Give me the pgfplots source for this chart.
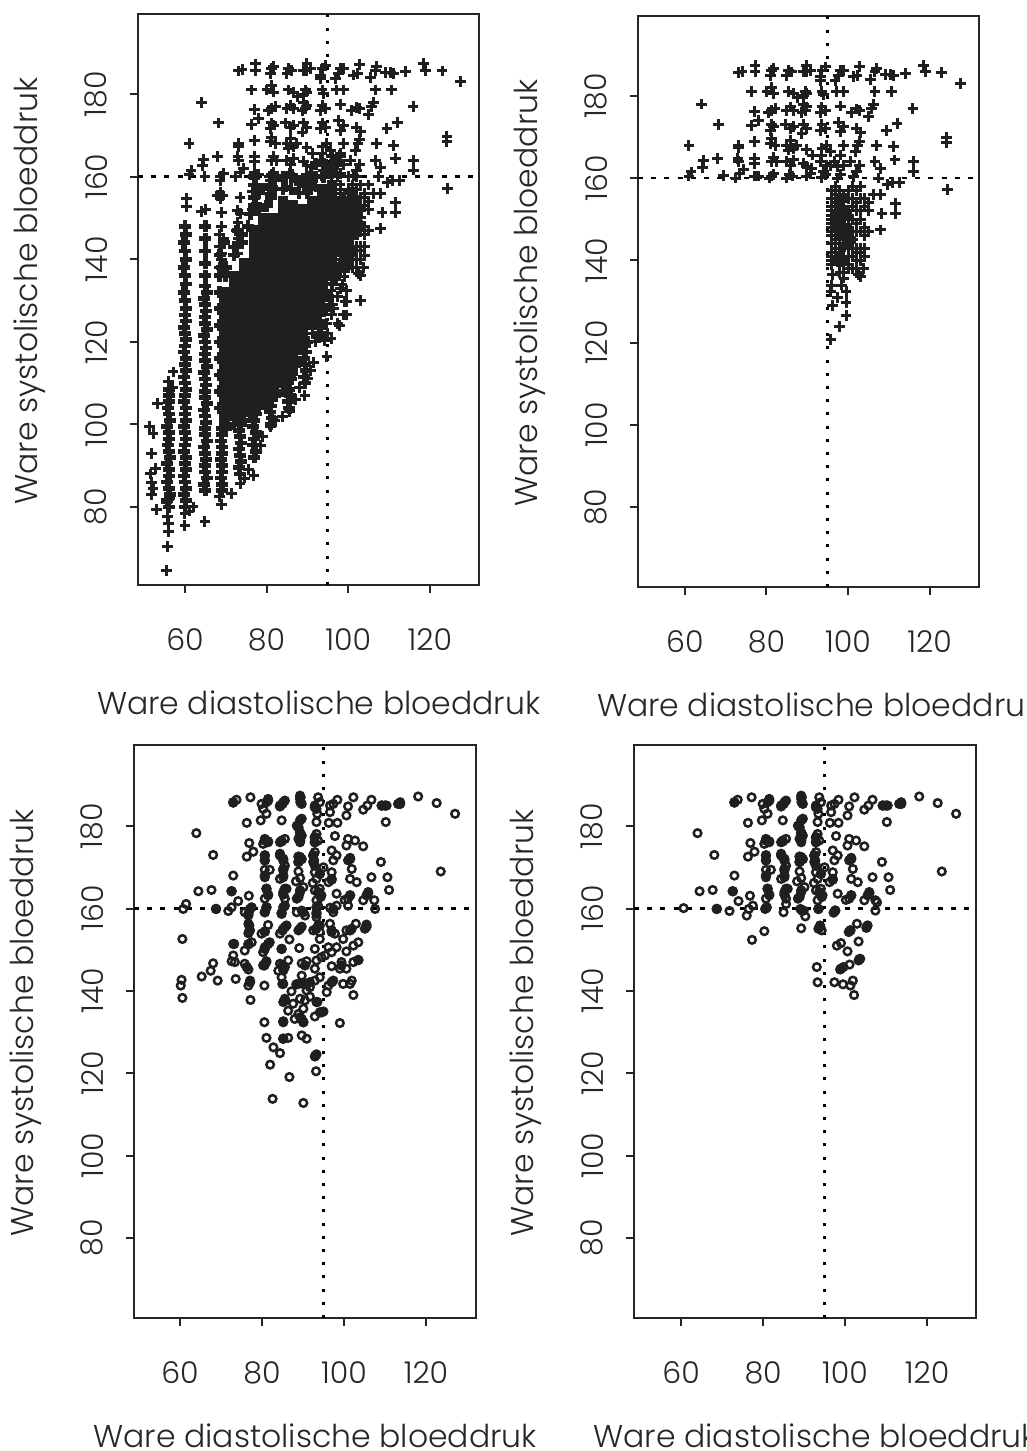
\documentclass[border=0pt]{standalone}
\usepackage{fontspec}
\setmainfont{Poppins Light}
\usepackage{pgfplots}
\usepackage{pgfplotstable}
\pgfplotsset{compat=1.18}
\pgfplotsset{
  panel/.style={
    anchor=south west, scale only axis, width=341pt, height=571pt,
    axis line style={line width=2.2pt, black!85},
    tick style={line width=2pt, black!85},
    tickwidth=8pt,
    tick align=outside, xtick pos=bottom, ytick pos=left,
    xtick={60,80,100,120}, ytick={80,100,120,140,160,180},
    /pgf/number format/assume math mode=true,
    tick label style={font=\fontsize{30}{32}\selectfont, black!85},
    xticklabel style={anchor=north, yshift=-32pt},
    yticklabel style={rotate=90, anchor=south, yshift=19pt},
    every axis x label/.style={at={(axis description cs:0.53,-0.206)},anchor=center,font=\fontsize{31.5}{34}\selectfont, text=black!85},
    every axis y label/.style={at={(axis description cs:-0.317,0.515)},rotate=90,anchor=center,font=\fontsize{31.5}{34}\selectfont, text=black!85},
    xlabel={Ware diastolische bloeddruk},
    ylabel={Ware systolische bloeddruk},
  },
  vref/.style={black, line width=2.8pt, dash pattern=on 3pt off 10.2pt, forget plot},
  hoef/.style={black, line width=2.4pt, dash pattern=on 5pt off 8.2pt, forget plot},
  pl/.style={only marks, mark=+, mark size=5.4pt, line width=3pt, mark options={solid}, color=black!88},
  mid/.style={only marks, mark=+, mark size=6pt, line width=4.6pt, color=black!88},
  blob/.style={only marks, mark=+, mark size=4.2pt, line width=8.4pt, color=black!88},
  core/.style={only marks, mark=+, mark size=5.2pt, line width=10.4pt, color=black!88},
  ci/.style={only marks, mark=o, mark size=3.8pt, line width=2.5pt, color=black!88},
  fd/.style={only marks, mark=*, mark size=5pt, color=black!88},
}
\pgfplotstableread{
x y
73.2 185.6
74 186
77.2 187.3
77.2 185.8
81.3 186.2
80.9 185
81.8 186.7
85 185
86.2 185.8
85.4 186.2
89.9 187.4
89.9 185.8
90.7 186.2
89 185.8
93.6 186.2
94.4 187
93.2 184.6
93.2 183.8
98.1 186.2
98.9 186.2
97.7 185
96.8 183.8
102.8 187.2
101.3 184.6
102.2 185
107 186.6
106.6 185.8
105.4 184
109.1 185.2
110.3 185.2
111.1 185
114 185.5
118.5 187.4
118.9 185.8
123 185.6
127.5 183
76.4 181
80.1 181
81.3 182
81.7 180.5
85.4 181
86.6 180.5
87.6 179.5
89.5 181
89.9 180.5
89.1 180
93.6 181
94 180.2
97.2 181
98.9 181
106.6 181
110.7 181
77 176.2
81.3 176.5
82.1 177
80.5 176
85 176.5
85.8 177.3
86.6 176.5
89.1 178
89.5 176.5
89.9 177.3
88.7 176
93.6 177.3
93.2 176
94.4 176.5
98.1 177.5
102 176.8
102.8 176.5
100.9 176
106.2 178
105.8 176.9
105 175
115.9 176.9
78 174
76.4 172.7
81.3 173
80.9 171.6
81.7 172.5
84.6 173
85.8 172
86.6 172.5
89.1 173
89.9 172
88.7 170.8
93.6 173
93.2 171.6
94.4 172
97.7 173.6
98.9 172.5
98.1 171.2
102 172
103 171
109.5 171.6
112 173.2
77.1 168.8
73.2 168
73.2 167.4
81.3 169.6
80.9 168.4
82.1 168
85 168
85.8 169.2
86.6 167.2
85.4 166.8
87.4 168
89.9 167
91.3 165.6
93.6 167.2
94.8 168
95.6 166.4
93.6 165.6
98.9 168
98.1 165.6
102.8 169
102.4 168
101.8 166.4
107 168
111.2 167.6
124.2 169.8
124.2 168.6
73 164.8
73.2 164
77 164.8
77 163.6
64.5 164.2
64.4 162.6
68 164.8
81.7 165
81.3 164
82.5 164
85 164
85.8 163
86.6 164.4
89.1 163.6
89.9 162.8
91.1 162.4
93.2 164
94.8 163
94 161.6
95.6 163
98.9 163
97.3 162.8
98.1 160.8
96.6 164
100.5 164
102.8 163
102 161.5
101.3 160.3
106.6 164
107.9 162.3
111.5 164.4
116 164
116 161.6
61 168
61 160.5
61.5 161.5
64 178
68.2 173
69.4 160.7
72.5 160
73.5 161
74.3 162
77.5 160.5
77 160.5
78 160.5
81.2 160.5
80.8 160
81.8 161
85.7 160.8
85 160
86.4 160.5
89.7 160.5
90.7 161
93.4 160.2
94.4 160.8
97.5 160
107.5 160
109.6 158.5
110.9 159
112.6 159
124.4 157.2
107.9 156
106.3 156
108.3 151.4
111.6 153.8
111.6 151.4
108 147.4
103.8 138
103 136
102.5 136.5
96.2 136.5
95.8 132.5
99 135.7
99.5 132.5
96.2 129
99.5 129.7
99.5 126.5
97.9 124
95.8 120.8
98.5 134
97.5 131
96 134
98 137
99 137
96 157
96 155
96 153
96 152
96 151
96 150
96 149
96 148
96 147
96 146
96 144
96 142
96 141
96 140
96 139
97 158
97 156
97 154
97 152
97 150
97 149
97 148
97 146
97 145
97 143
97 141
97 140
98 157
98 155
98 152
98 150
98 148
98 147
98 146
98 145
98 144
98 142
98 140
98 139
99 156
99 153
99 150
99 148
99 147
99 146
99 145
99 144
99 143
99 141
99 139
100 157
100 155
100 152
100 150
100 148
100 147
100 146
100 145
100 143
100 141
100 139
100 138
101 158
101 155
101 153
101 150
101 147
101 145
101 143
101 141
101 138
102 157
102 154
102 152
102 149
102 147
102 143
102 142
102 140
102 138
103 158
103 155
103 152
103 150
103 147
103 143
103 142
103 140
104 155
104 153
104 148
104 146
104 143
104 141
105 154
105 152
105 147
}\highplus
\pgfplotstableread{
x y
97.5 155
97.5 153
99 155
97 150
97 148
98.5 150
98.5 148
100 148
100 146
99 146
101 145
100 144
98 141
98 139.5
97 140
99.5 140
96.5 150.5
96.5 151.5
98 146
99 152
100 151
98.5 143
}\blobplus
\pgfplotstableread{
x y
73.0 185.7
73.8 186.4
77.2 187
79.9 185.4
80.3 184.2
81.1 183
81.5 186.6
81.1 185.8
84.4 185
85.2 185.8
85.6 186.2
89.3 187.4
89.3 186.6
89.7 185.4
92.9 185
93.3 184.2
93.7 187
94.1 185.8
96.6 185
96.6 183.4
97.4 185.4
98.4 186.4
101 184.8
100.6 182.6
102.3 187
104.7 184
105.7 185
106.7 186.4
109.2 185
110.4 185
113.2 185.4
113.7 185.8
118.1 187.2
122.6 185.6
127.1 183
76.3 180.8
79.7 181.4
84.8 181.4
88.5 180.1
89.7 181.8
93.3 181
93.5 183
96.3 180.8
98.4 180.8
110.2 181
64 178.3
89.3 178.5
88.9 176.9
89.7 177.7
89.3 176.1
92.9 177.3
93.3 178.1
92.9 176.1
93.7 176.5
76.9 175.9
80.7 176.9
81.5 176.1
80.3 175.7
84.4 176.1
85.6 176.9
84.8 176.5
97.8 177.6
101 176.9
102.7 176.5
100.6 175.3
104.7 175.1
68.1 173
77.9 173.8
76.3 172.6
80.7 172.9
80.7 171.7
84.4 173.3
85.2 172.1
89.3 172.5
88.9 171.3
92.5 172.9
92.9 173.7
92.5 171.3
97 174.1
98.2 172.9
97.4 171.7
101.5 172.3
101 171.7
109 171.3
101.9 169.6
123.6 169
73 168
80.7 169.4
81.9 169.4
80.7 167.6
85.6 170.4
85.2 169.2
85.2 167.6
84.4 167.2
88.9 169
89.3 167.4
88.3 166.6
92.9 168.8
94.1 168.4
95 170
93.3 167.2
92.4 166.2
97 168.8
97 167.2
96.2 166.4
101.5 167.2
103.1 166.4
106.7 167.6
110.6 167.6
64.5 164.2
67.7 164.5
72.6 164.2
76.8 163.1
81.1 164.8
81.5 163.2
80.7 162.4
86 164.8
85.2 164
85.6 162.4
90.1 165.2
89.3 164
88.5 162.4
92.9 164.4
94.1 164.8
94.5 163.2
93.3 162
98.2 163.6
100.2 162.1
101.5 163.2
101 162.4
105.9 164
105.5 163.2
107.4 162
104.7 162
111 164.5
}\highcirc
\pgfplotstableread{
x y
73 185.8
81.5 186.2
85 185.4
84.4 184.8
89.4 187
89.4 185.8
92.9 184.6
113.7 185.4
110 185
109.2 185
89.3 181.4
88.9 179.7
89.3 178.1
89.3 176.5
92.9 177.3
92.9 176.1
80.7 176.5
81.5 176.3
84.8 176.3
80.7 172.9
80.7 171.7
84.4 172.9
85.2 171.7
88.9 172.6
89.7 172
88.9 171.3
92.5 172.9
92.7 171.7
92.9 170.4
101.5 172
80.7 168
85.2 169.6
85.2 168
94.1 168.4
97 167
81.1 164.8
81.5 163.4
85.6 164.8
85.2 163.4
89.3 164.4
88.9 162.8
93.7 164
94.3 162.8
72.6 164.2
101.5 163.2
105.9 163.7
}\highblob
\begin{document}
\begin{tikzpicture}[x=1pt,y=1pt]
\useasboundingbox (0,0) rectangle (1026,1451);
% ---------- panel 1
\begin{axis}[panel, at={(138pt,866pt)}, xmin=48.5, xmax=132.06, ymin=61.1, ymax=199.4]
\addplot[vref] coordinates {(95,61.1)(95,199.4)};
\addplot[hoef] coordinates {(48.5,160)(132,160)};
\addplot[core] coordinates {
(69.7,100)(69.7,102)(69.7,104)(69.7,106)(69.7,108)(69.7,110)(69.7,112)(69.7,114)(69.7,116)(69.7,118)(69.7,120)(69.7,122)(69.7,124)(69.7,126)(69.7,128)(69.7,130)(69.7,132)
(72.1,102)(72.1,104)(72.1,106)(72.1,108)(72.1,110)(72.1,112)(72.1,114)(72.1,116)(72.1,118)(72.1,120)(72.1,122)(72.1,124)(72.1,126)(72.1,128)(72.1,130)(72.1,132)(72.1,134)(72.1,136)
(74.5,103)(74.5,105)(74.5,107)(74.5,109)(74.5,111)(74.5,113)(74.5,115)(74.5,117)(74.5,119)(74.5,121)(74.5,123)(74.5,125)(74.5,127)(74.5,129)(74.5,131)(74.5,133)(74.5,135)(74.5,137)(74.5,139)
(76.9,105)(76.9,107)(76.9,109)(76.9,111)(76.9,113)(76.9,115)(76.9,117)(76.9,119)(76.9,121)(76.9,123)(76.9,125)(76.9,127)(76.9,129)(76.9,131)(76.9,133)(76.9,135)(76.9,137)(76.9,139)(76.9,141)(76.9,143)(76.9,145)(76.9,147)
(79.3,106)(79.3,108)(79.3,110)(79.3,112)(79.3,114)(79.3,116)(79.3,118)(79.3,120)(79.3,122)(79.3,124)(79.3,126)(79.3,128)(79.3,130)(79.3,132)(79.3,134)(79.3,136)(79.3,138)(79.3,140)(79.3,142)(79.3,144)(79.3,146)(79.3,148)(79.3,150)
(81.7,108)(81.7,110)(81.7,112)(81.7,114)(81.7,116)(81.7,118)(81.7,120)(81.7,122)(81.7,124)(81.7,126)(81.7,128)(81.7,130)(81.7,132)(81.7,134)(81.7,136)(81.7,138)(81.7,140)(81.7,142)(81.7,144)(81.7,146)(81.7,148)(81.7,150)
(84.1,110)(84.1,112)(84.1,114)(84.1,116)(84.1,118)(84.1,120)(84.1,122)(84.1,124)(84.1,126)(84.1,128)(84.1,130)(84.1,132)(84.1,134)(84.1,136)(84.1,138)(84.1,140)(84.1,142)(84.1,144)(84.1,146)(84.1,148)(84.1,150)(84.1,152)(84.1,154)
(86.5,113)(86.5,115)(86.5,117)(86.5,119)(86.5,121)(86.5,123)(86.5,125)(86.5,127)(86.5,129)(86.5,131)(86.5,133)(86.5,135)(86.5,137)(86.5,139)(86.5,141)(86.5,143)(86.5,145)(86.5,147)(86.5,149)(86.5,151)(86.5,153)
(88.9,118)(88.9,120)(88.9,122)(88.9,124)(88.9,126)(88.9,128)(88.9,130)(88.9,132)(88.9,134)(88.9,136)(88.9,138)(88.9,140)(88.9,142)(88.9,144)(88.9,146)(88.9,148)(88.9,150)(88.9,152)
(91.3,124)(91.3,126)(91.3,128)(91.3,130)(91.3,132)(91.3,134)(91.3,136)(91.3,138)(91.3,140)(91.3,142)(91.3,144)(91.3,146)(91.3,148)(91.3,150)(91.3,152)(91.3,154)
(93.7,131)(93.7,133)(93.7,135)(93.7,137)(93.7,139)(93.7,141)(93.7,143)(93.7,145)(93.7,147)(93.7,149)(93.7,151)(93.7,153)(93.7,155)(93.7,157)
(96.1,136)(96.1,138)(96.1,140)(96.1,142)(96.1,144)(96.1,146)(96.1,148)(96.1,150)(96.1,152)(96.1,154)(96.1,156)(96.1,158)
(98.5,142)(98.5,144)(98.5,146)(98.5,148)(98.5,150)(98.5,152)(98.5,154)
};
\addplot[mid] coordinates {
(56,80)(55.7,81.5)(56.3,83)(56,84.5)(55.7,86)(56.2,87.5)(56,89)(55.7,90.5)(56.3,92)(56,93.5)(55.8,95)(56.2,96.5)(56,98)(55.7,99.5)(56.3,101)(56,102.5)(55.8,104)(56.2,105.5)(56,107)(56.2,108.5)
(60,80)(60.3,81.5)(59.8,83)(60.2,84.5)(60,86)(59.8,87.5)(60.3,89)(60,90.5)(60.2,92)(59.8,93.5)(60,95)(60.3,96.5)(60,98)(59.8,99.5)(60.2,101)(60,102.5)(60.3,104)(59.8,105.5)(60,107)(60.2,108.5)(60,110)(59.8,111.5)(60.3,113)(60,114.5)(60.2,116)(59.8,117.5)(60,119)(60.3,120.5)(60,122)(59.8,123.5)(60.2,125)(60,126.5)(60.3,128)
(65,84)(64.7,85.5)(65.3,87)(65,88.5)(64.8,90)(65.2,91.5)(65,93)(64.7,94.5)(65.3,96)(65,97.5)(64.8,99)(65.2,100.5)(65,102)(64.7,103.5)(65.3,105)(65,106.5)(64.8,108)(65.2,109.5)(65,111)(64.7,112.5)(65.3,114)(65,115.5)(64.8,117)(65.2,118.5)(65,120)(64.7,121.5)(65.3,123)(65,124.5)(64.8,126)(65.2,127.5)(65,129)(64.7,130.5)(65.3,132)(65,133.5)
(69,84)(69.2,85.5)(68.8,87)(69,88.5)(69.2,90)(68.8,91.5)(69,93)(69.2,94.5)(68.8,96)(69,97.5)(69.2,99)
(73.5,88)(73.2,89.5)(73.7,91)(73.5,92.5)(73.2,94)(73.7,95.5)(73.5,97)(73.2,98.5)(73.7,100)(73.5,101.5)
(77,92)(77.3,93.5)(76.8,95)(77,96.5)(77.3,98)(76.8,99.5)(77,101)(77.3,102.5)(76.8,104)
(81,100)(81.3,101.5)(80.8,103)(81,104.5)(81.3,106)
(85.6,104)(85.3,105.5)(85.8,107)(85.6,108.5)(85.3,110)(85.8,111.5)
(89.4,110)(89.2,111.5)(89.6,113)(89.4,114.5)(89.2,116)(89.6,117.5)(89.4,119)
(93,122)(93.3,123.5)(92.8,125)(93,126.5)(93.3,128)(92.8,129.5)
(70,136)(70,138)(72,141)(72,143)(74,144)(74,146)(75.5,148)(73,147)(69,138)(68.5,141)(69.5,144)
(78,152)(76,151)(77,153)(80,153)(81,155)(82,157)(84,157)(86,157)(88,156)(90,156)(91,158)(92,160)(94,160)(95,162)(96,161)(97,163)(98,165)(96,165)(94,163)(92,163)(90,160)(88,159)(86,160)(84,160)(82,160)(81,158)(79,157)(78,156)(77,158)(77,160)(77,155)
(99,154)(100,152)(101,150)(100,148)(101,146)(100,144)(101,142)(100,140)(100,138)(99,141)(98,138)(97,136)(96,134)(95,131)(94,128)(93,127)(92,125)(101,156)(102,154)(103,152)(102,150)(103,148)(102,146)
(70,99)(72,100)(74,101)(76,103)(78,104)(80,105)(82,107)(84,108)(86,111)(88,115)(90,120)(92,128)(68.5,104)(68.5,108)(68.5,112)(68.5,116)(68.5,120)(68.5,124)(68.5,128)(68.5,132)(68.5,136)
(60,130)(59.7,132)(60.3,134)(60,136)(59.7,138)(60.3,140)(60,142)(59.7,144)(60.3,146)(60,148)
(65,136)(65,139)(65,142)(65,145)(65,148)
};
\addplot[pl] coordinates {
(55.5,64.7)(55.7,70.4)(56,74)(56,76)(55.7,77.6)(53,79.3)(60,75.6)(64.9,76.4)(55.9,81.7)(55.5,81)(56.3,82)
(51.8,82.9)(52.2,84.5)(51.8,86)(51.5,88)(52.7,89.3)(51.8,93)(52.2,97.8)(51.4,99.4)(53.3,105)(57.1,112.7)(55.9,110.3)(57,109)
(60,78.5)(62,80)(61,79)(69,80.5)(71.5,83.3)(68.5,82.5)(73.5,85.7)(76.9,87.7)(74.5,87)(75.5,89)
(81,99.4)(79,97)(78.5,95)(82,101)(85.7,103)(84,102)(87,106)(89.4,107)(88,109)(90,111)(91.5,115)(90.8,113)
(94.8,116.4)(94.2,120.4)(93,121)(95,122)(94.8,124.5)(93,125)(94.8,127.7)(95.5,129)(99.2,129.7)(98.8,126.5)(97.5,124.5)(96,126.5)(94,130)
(60.4,154.7)(60.4,152.7)(64.1,151.5)(65,152)(68.6,155.5)(68,155.5)(69.2,155.5)(68.6,154.8)(68.6,156.2)(68.6,159)(68.6,160)(73.5,155)(72.8,151.9)(73.5,151)(69,151.4)(64.9,160)
(77,161)(77,159.5)(77.5,158)(76.5,156.5)(77,155)(77.5,153.5)(76.5,152)(81,159)(81.5,157.5)(80.5,156)
(84,159)(85,157.5)(88,158)(89,157.5)(90,158.5)(92,157.5)
(69,148)(68.5,146)(69.5,145)(68.5,143)(69,141.5)(69,140)(68.5,138)(69.5,137)
(73,149)(72.5,147)(73.5,146)(73,145)(72.5,143)(73,141.5)
(88,147)(91,147)(104,156)(105,158)(102,160)(100,160)(98,158)(96,160)
(103,130)(98,133)(97,135)(96.5,128)(91.3,122)(92,120)
};
\addplot[pl] table[x=x,y=y] {\highplus};
\end{axis}
% ---------- panel 2
\begin{axis}[panel, at={(638pt,864pt)}, xmin=48.5, xmax=132.1, ymin=60.6, ymax=199.4]
\addplot[vref] coordinates {(95,60.6)(95,199.4)};
\addplot[hoef] coordinates {(48.5,160)(132,160)};
\addplot[blob] table[x=x,y=y] {\blobplus};
\addplot[pl] table[x=x,y=y] {\highplus};
\end{axis}
% ---------- panel 3
\begin{axis}[panel, at={(134pt,133pt)}, xmin=48.8, xmax=132.2, ymin=60.6, ymax=199.7, height=573pt, width=342pt]
\addplot[vref] coordinates {(95,60.6)(95,199.7)};
\addplot[hoef] coordinates {(48.8,160)(132,160)};
\addplot[ci] table[x=x,y=y] {\highcirc};
\addplot[fd] table[x=x,y=y] {\highblob};
\addplot[fd] coordinates {
(77.1,159.9)(76.7,158.7)(81.1,160.3)(80.7,159.1)(85.2,160.3)(84.8,158.9)(90.1,159.1)(93.3,160.3)(93.3,158.7)(97.4,159.9)(68.8,159.9)
(76.9,155.9)(76.9,154.5)(80.7,154.4)(85.6,155.5)(85,154.7)(89.3,155.1)(93.2,155)(94.1,155.9)(97,154.7)(105.5,155.6)(101.5,154.7)
(73.2,151.4)(76.7,151.3)(81.5,151.4)(80.7,150.2)(84.8,150.2)(81,147)(80.6,146.2)(76.3,145.8)(85,146.2)(85.2,145)(90.5,146.2)(99.4,146.2)(103.5,147.5)(77.1,142.1)(85,141.7)(88.4,141.6)(90.1,141.7)(91.7,142.1)(97,142.1)(85.6,137.7)(93.5,137.3)(89.3,133.6)(90.1,132.4)(94.5,134.8)(85.2,132.6)(85.2,128.4)(93,124.2)
};
\addplot[ci] coordinates {
(61.5,161.1)(60.8,159.9)(68.8,159.9)(71.8,159.4)(72.6,160.3)(74.2,161.8)(75.8,159.1)(77.5,160.3)(76.7,158.3)(81.1,160.3)(80.7,159.1)(85.6,160.7)(84.8,158.7)(89.7,159.5)(90.5,158.3)(88.5,159.1)(93.7,160.7)(93.3,159.1)(93.3,157.9)(96.6,160.2)(98.2,160.7)(97.4,159.1)(101,160.7)(107.6,159.9)
(60.6,152.6)(76.7,156.3)(77.1,154.7)(76.7,154)(81.5,156)(80.7,154.4)(79.9,153.9)(86,155.9)(85.2,155.1)(84.4,153.9)(89.7,155.6)(88.9,154.7)(92.5,154.7)(93.7,155.9)(94.1,154.3)(96.6,156.3)(97,154.3)(97.8,153.9)(100.6,154.7)(101.9,155.1)(102.9,156.3)(105.5,156.1)(105.1,155.1)
(73,151.4)(76.7,151.4)(77.5,151.8)(75.8,149.8)(81.9,151.8)(80.7,150.6)(80.3,149.4)(86.7,152.5)(84.8,150.2)(89.1,150.4)(92.9,150.2)(94.1,152.6)(96.2,150.6)(95.4,148.6)(99.8,152.6)(98.2,150.6)(97,149.4)(103.5,151.8)(102.3,151)(100.6,149.6)
(73,148.6)(72.6,147.2)(73.4,147)(68.1,146.7)(67.5,144.9)(75.8,146.6)(76.7,145.2)(81.1,147.2)(80.3,146.2)(86.4,147.4)(84.4,146.6)(85.6,145.8)(84,144.9)(89.7,146.7)(90.9,147.2)(93.3,147.4)(92.9,145.4)(94.5,148.2)(97,146)(99.4,147)(99,145.4)(100.6,145.4)(103.5,147.5)(102.3,147)
(65.3,143.5)(69.2,142.5)(73.6,142.9)(77.1,142.5)(76.7,141.3)(80.6,141.3)(84.8,143.3)(85.2,141.7)(89.7,143.7)(88.9,141.7)(90.5,141.7)(94.1,143.3)(92.9,142.5)(97.4,142.5)(96.2,141.3)(95.8,139.7)(99.8,141.7)(101.5,141.7)(101.9,142.5)(60.4,142.7)(60.2,141.3)(60.6,138.3)
(77.2,137.8)(87.2,139.9)(91.7,140.9)(90.9,140.1)(91.7,138.6)(85.6,138.1)(85.2,137.3)(89.3,138.1)(90.5,137.7)(102.3,139)(93.3,137.3)(87.6,136.9)
(86.4,135.2)(90.1,135.7)(88,133.2)(88.9,134.4)(89.7,133.2)(90.1,132.4)(94.1,134.8)(95,135)(92.9,133.8)(85.2,132.4)(80.6,132.4)(99,132.2)
(81.1,128.6)(85.2,128.4)(86.4,128.6)(89.7,129.2)(90.9,128.4)(82.8,126.3)(84.4,124.9)(92.9,124.1)(93.3,124.6)(82,122.1)(93.2,120.5)(86.7,119.1)(82.6,113.8)(90.1,112.8)
};
\end{axis}
% ---------- panel 4
\begin{axis}[panel, at={(634pt,133pt)}, xmin=48.5, xmax=131.95, ymin=60.6, ymax=199.7, height=573pt, width=342pt]
\addplot[vref] coordinates {(95,60.6)(95,199.7)};
\addplot[hoef] coordinates {(48.5,160)(131.9,160)};
\addplot[ci] table[x=x,y=y] {\highcirc};
\addplot[fd] table[x=x,y=y] {\highblob};
\addplot[fd] coordinates {
(68.7,159.9)(80.8,160.2)(93.5,159.9)(89.5,159.5)(97.6,159.5)(93.9,155.6)(101.3,154.7)(105.3,155.6)(99,145.4)(103.5,147.7)
};
\addplot[ci] coordinates {
(60.6,160.1)(68.7,159.9)(71.8,159.4)(74,161.8)(76,158.3)(76.5,159.9)(77.5,160.7)(80.9,160.3)(80.5,159.9)(85,159.1)(85.6,161.1)(89.1,159.9)(89.9,159.5)(90.3,158.1)(93.5,159.9)(97.6,159.5)(97.2,159)(107.8,161.5)(107.4,159.5)
(80.3,154.5)(77.3,152.4)(89.3,155.2)(93.9,155.9)(94.3,154.7)(93.5,155.1)(101.3,154.7)(100.9,154.3)(102.9,156.3)(105.5,155.9)(105.2,155.3)
(98,151)(99,151.6)(100.6,149.6)(103.3,152)(93.1,145.8)(103.7,147.8)(103.3,147.4)(98.8,145.2)(99.6,145.8)(101.1,146.4)
(93.3,142.1)(97.4,142.1)(99.5,141.6)(101.3,141.3)(101.9,142.5)(102.2,139)
};
\end{axis}
\end{tikzpicture}
\end{document}
